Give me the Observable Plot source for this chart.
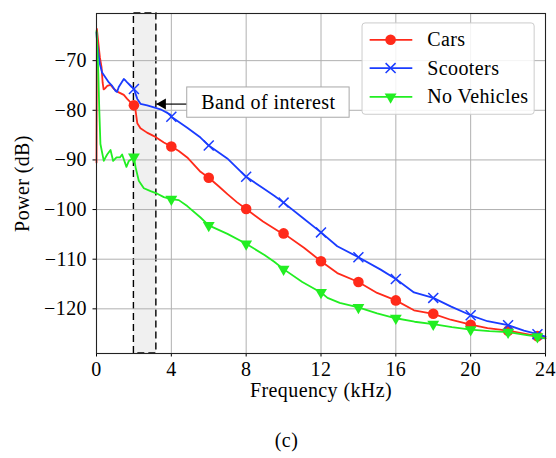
<!DOCTYPE html>
<html>
<head>
<meta charset="utf-8">
<script src="https://cdn.jsdelivr.net/npm/d3@7"></script>
<script src="https://cdn.jsdelivr.net/npm/@observablehq/plot@0.6"></script>
<style>
  html, body { margin: 0; padding: 0; background: white; }
  #chart svg, #chart svg text { font-family: "Liberation Serif", "Times New Roman", serif; letter-spacing: 0.4px; }
</style>
</head>
<body>
<div id="chart"></div>
<script>
// ---- Data ----
const seriesNames = ["Cars", "Scooters", "No Vehicles"];
const seriesColors = ["#ff2a1a", "#1a3cff", "#22ee22"];

const carsFreq  = [0, 0.02, 0.1, 0.18, 0.27, 0.33, 0.38, 0.48, 0.57, 0.75, 0.93, 1.19, 1.46, 1.64, 1.82, 2, 2.09, 2.18, 2.35, 2.7, 3.07, 3.6, 4, 4.4, 4.85, 5.56, 6, 6.5, 7, 7.5, 8, 8.9, 9.75, 10, 11.09, 12, 12.87, 14, 15, 16, 16.97, 18, 18.93, 20, 20.9, 22, 23, 23.57, 24];
const carsPower = [-90.5, -63.6, -66.5, -69.3, -71.3, -74.5, -75.8, -75.5, -75.1, -74.9, -75.7, -76.4, -76.9, -77.7, -78.4, -79.0, -80.1, -82.6, -83.6, -84.5, -85.2, -86.5, -87.3, -88.2, -89.5, -92.4, -93.6, -95.2, -96.9, -98.5, -99.9, -102.4, -104.4, -104.8, -107.7, -110.4, -112.8, -114.6, -116.8, -118.3, -120.3, -121.0, -122.2, -123.2, -123.9, -124.4, -125.1, -125.5, -125.9];

const scootersFreq  = [0, 0.04, 0.1, 0.18, 0.3, 0.48, 0.66, 0.84, 1.02, 1.1, 1.19, 1.46, 1.55, 1.64, 1.82, 2, 2.09, 2.18, 2.35, 2.71, 3.07, 3.42, 3.96, 4, 4.85, 5.56, 6, 6.99, 8, 8.95, 9.5, 10, 11, 12, 12.87, 14, 15.19, 16, 16.97, 18, 18.93, 20, 20.9, 22, 22.85, 23.57, 24];
const scootersPower = [-64.3, -66.6, -68.5, -70.7, -72.4, -73.4, -74.4, -75.1, -76.1, -76.3, -75.3, -73.7, -74.0, -74.4, -75.1, -75.7, -76.7, -77.7, -78.7, -79.0, -79.4, -79.8, -80.9, -81.3, -83.5, -85.5, -87.1, -89.7, -93.4, -95.8, -97.2, -98.6, -101.6, -104.6, -107.4, -109.6, -112.1, -114.0, -116.7, -117.8, -119.5, -121.3, -122.5, -123.3, -124.4, -125.1, -125.6];

const noVehFreq  = [0, 0.05, 0.1, 0.15, 0.21, 0.3, 0.39, 0.47, 0.57, 0.75, 0.89, 1.07, 1.25, 1.37, 1.6, 1.73, 1.85, 2, 2.09, 2.26, 2.53, 2.89, 3.25, 3.6, 4, 4.4, 4.85, 5.56, 6, 7, 8, 9, 9.5, 10, 11, 12, 12.35, 13, 14, 15, 16, 17, 18, 19, 20, 21, 22, 23, 23.57, 24];
const noVehPower = [-64, -68, -73, -80, -86.8, -88.5, -90.2, -89.6, -88.9, -88.0, -90.2, -89.5, -89.5, -88.9, -91.4, -90.2, -89.9, -89.4, -91.5, -94.2, -95.7, -96.3, -96.8, -97.5, -97.9, -98.1, -99.3, -101.6, -103.2, -104.9, -106.9, -109.2, -110.5, -112.0, -114.6, -116.7, -117.8, -118.8, -119.7, -120.9, -121.9, -122.6, -123.1, -123.7, -124.2, -124.5, -124.7, -125.3, -125.6, -126.0];

const markerFreqs = [2, 4, 6, 8, 10, 12, 14, 16, 18, 20, 22, 23.57];
const xTicks = [0, 4, 8, 12, 16, 20, 24];
const yTicks = [-70, -80, -90, -100, -110, -120];
const xDomain = [0, 24];
const yDomain = [-129, -60.5];
const bandKHz = [2, 3.2];
const bandLabel = ["Band of interest"];
const labelBox = [{x1: 4.85, x2: 13.53, y1: -75.4, y2: -81.5, tx: 9.19, ty: -78.4, ay: -78.75}];
const legendBox = [{x1: 14.22, x2: 23.42, y1: -62.5, y2: -80.9}];
const legendRowY = [-65.8, -71.5, -77.3];
const legendLineX = [14.6, 16.88];
const legendMarkX = 15.72;
const legendTextX = 17.68;
const xLabel = ["Frequency (kHz)"];
const yLabel = ["Power (dB)"];
const caption = ["(c)"];

// ---- Build tables ----
const toRows = (fs, ps, name) => fs.map((f, i) => ({f, p: ps[i], name}));
const cars = toRows(carsFreq, carsPower, "Cars");
const scooters = toRows(scootersFreq, scootersPower, "Scooters");
const noVeh = toRows(noVehFreq, noVehPower, "No Vehicles");
const isMarker = d => markerFreqs.includes(d.f);
const legendRows = seriesNames.map((name, i) => ({name, y: legendRowY[i], color: seriesColors[i]}));

const fmt = d => (d < 0 ? "\u2212" + Math.abs(d) : String(d));
const FS = 20;

const chart = Plot.plot({
  width: 556,
  height: 458,
  marginTop: 13,
  marginRight: 11,
  marginBottom: 105,
  marginLeft: 96,
  style: "font-family: 'Liberation Serif', 'Times New Roman', serif; font-size: 20px; background: white; color: black;",
  x: {domain: xDomain},
  y: {domain: yDomain},
  marks: [
    // band of interest
    Plot.rect([bandKHz], {x1: d => d[0], x2: d => d[1], y1: yDomain[0], y2: yDomain[1],
      fill: "#f0f0f0", stroke: "black", strokeWidth: 1.4, strokeDasharray: "7,4"}),
    // grid
    Plot.gridX(xTicks.slice(1, -1), {stroke: "#b0b0b0", strokeOpacity: 1, strokeWidth: 1}),
    Plot.gridY(yTicks, {stroke: "#b0b0b0", strokeOpacity: 1, strokeWidth: 1}),
    // axes
    Plot.axisX({ticks: xTicks, tickSize: 3.5, tickPadding: 5, tickFormat: fmt, label: null, fontSize: FS}),
    Plot.axisY({ticks: yTicks, tickSize: 3.5, tickPadding: 6, tickFormat: fmt, label: null, fontSize: FS}),
    // series lines
    Plot.line(cars, {x: "f", y: "p", stroke: seriesColors[0], strokeWidth: 1.8}),
    Plot.dot(cars, {filter: isMarker, x: "f", y: "p", r: 5.3, fill: seriesColors[0], stroke: "none"}),
    Plot.line(scooters, {x: "f", y: "p", stroke: seriesColors[1], strokeWidth: 1.8}),
    Plot.dot(scooters, {filter: isMarker, x: "f", y: "p", r: 4.6, symbol: "times", stroke: seriesColors[1], strokeWidth: 1.5}),
    Plot.line(noVeh, {x: "f", y: "p", stroke: seriesColors[2], strokeWidth: 1.8}),
    Plot.dot(noVeh, {filter: isMarker, x: "f", y: "p", r: 4.4, symbol: "triangle", rotate: 180, fill: seriesColors[2], stroke: "none"}),
    // annotation
    Plot.link(labelBox, {x1: "x1", x2: () => bandKHz[1], y1: "ay", y2: "ay", stroke: "black", strokeWidth: 1.2}),
    Plot.dot(labelBox, {x: () => bandKHz[1], y: "ay", dx: 6.3, r: 4.1, symbol: "triangle", rotate: -90, fill: "black", stroke: "none"}),
    Plot.rect(labelBox, {x1: "x1", x2: "x2", y1: "y1", y2: "y2", fill: "white", stroke: "#a8a8a8", strokeWidth: 1}),
    Plot.text(labelBox, {x: "tx", y: "ty", text: () => bandLabel[0], fontSize: FS, fill: "black"}),
    // legend
    Plot.rect(legendBox, {x1: "x1", x2: "x2", y1: "y1", y2: "y2", fill: "white", fillOpacity: 0.85, stroke: "#cccccc", strokeWidth: 1, rx: 3}),
    Plot.link(legendRows, {x1: legendLineX[0], x2: legendLineX[1], y1: "y", y2: "y", stroke: "color", strokeWidth: 1.8}),
    Plot.dot(legendRows.slice(0, 1), {x: legendMarkX, y: "y", r: 5.3, fill: "color", stroke: "none"}),
    Plot.dot(legendRows.slice(1, 2), {x: legendMarkX, y: "y", r: 4.6, symbol: "times", stroke: "color", strokeWidth: 1.5}),
    Plot.dot(legendRows.slice(2, 3), {x: legendMarkX, y: "y", r: 4.4, symbol: "triangle", rotate: 180, fill: "color", stroke: "none"}),
    Plot.text(legendRows, {x: legendTextX, y: "y", text: "name", textAnchor: "start", fontSize: FS, fill: "black"}),
    // frame
    Plot.frame({stroke: "#222", strokeWidth: 1.1}),
    // axis titles & caption
    Plot.text(xLabel, {frameAnchor: "bottom", dy: 43, text: d => d, textAnchor: "middle", fontSize: FS, fill: "black"}),
    Plot.text(yLabel, {frameAnchor: "left", dx: -74, rotate: -90, text: d => d, textAnchor: "middle", fontSize: FS, fill: "black"}),
    Plot.text(caption, {frameAnchor: "bottom-left", dx: 190, dy: 93, text: d => d, textAnchor: "middle", fontSize: FS, fill: "black"})
  ]
});
document.getElementById("chart").appendChild(chart);
</script>
</body>
</html>
